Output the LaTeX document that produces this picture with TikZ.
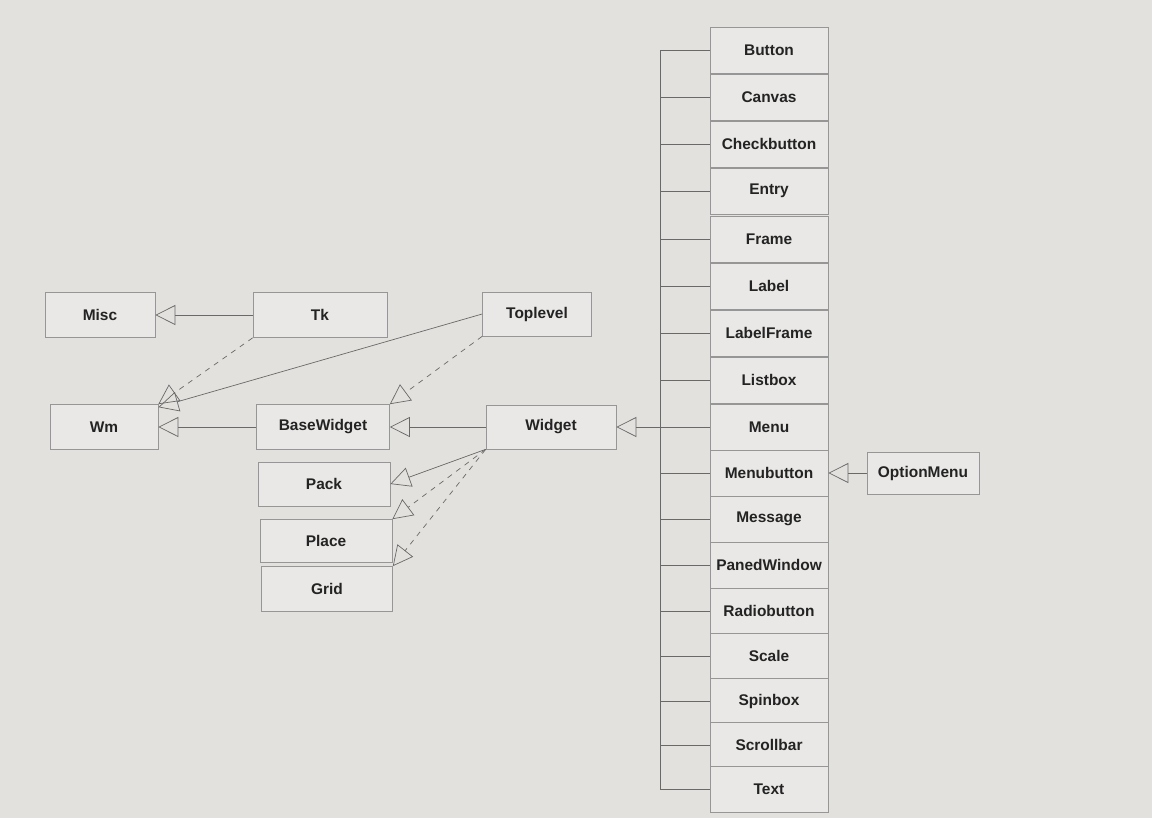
\documentclass[tikz,border=0pt]{standalone}
\usepackage{fontspec}
\setmainfont{Liberation Sans}
\usepackage{xcolor}
\usepackage{tikz}
\usetikzlibrary{arrows.meta}

\definecolor{screen}{RGB}{226,225,222}
\definecolor{boxfill}{RGB}{233,232,230}
\definecolor{boxline}{RGB}{150,150,150}
\definecolor{wire}{RGB}{105,105,105}
\definecolor{ink}{RGB}{35,35,35}

\tikzset{
    cls/.style={rectangle, draw=boxline, fill=boxfill, inner sep=0pt, minimum height=0.9cm, text=ink, font=\bfseries\fontsize{8.8}{10}\selectfont},
    wid/.style={cls, minimum width=2.36cm, minimum height=0.92cm},
    inh/.style={-{Triangle[open, length=4mm, width=4mm]}, wire, thin},
    tie/.style={wire, thin}
}

\begin{document}
\begin{tikzpicture}[x=0.02cm, y=-0.02cm]
            \fill[screen] (0,0) rectangle (1152,818);
            \useasboundingbox (0,0) rectangle (1152,818);

            % left part
            \node[cls, minimum width=2.2cm] (misc) at (100, 315) {Misc};
            \node[cls, minimum width=2.68cm] (tk) at (320, 315) {Tk};
            \node[cls, minimum width=2.18cm, minimum height=0.88cm] (toplevel) at (537, 314) {Toplevel};
            \node[cls, minimum width=2.16cm] (wm) at (104, 427) {Wm};
            \node[cls, minimum width=2.66cm] (basewidget) at (323, 427) {BaseWidget};
            \node[cls, minimum width=2.6cm, minimum height=0.88cm] (widget) at (551, 427) {Widget};
            \node[cls, minimum width=2.64cm, minimum height=0.88cm] (pack) at (324, 484) {Pack};
            \node[cls, minimum width=2.64cm, minimum height=0.86cm] (place) at (326, 541) {Place};
            \node[cls, minimum width=2.62cm] (grid) at (327, 589) {Grid};

            % widget column
            \node[wid] (button) at (769, 50) {Button};
            \node[wid] (canvas) at (769, 97) {Canvas};
            \node[wid] (checkbutton) at (769, 144) {Checkbutton};
            \node[wid] (entry) at (769, 191) {Entry};
            \node[wid] (frame) at (769, 239) {Frame};
            \node[wid] (label) at (769, 286) {Label};
            \node[wid] (labelframe) at (769, 333) {LabelFrame};
            \node[wid] (listbox) at (769, 380) {Listbox};
            \node[wid] (menu) at (769, 427) {Menu};
            \node[wid] (menubutton) at (769, 473) {Menubutton};
            \node[wid] (message) at (769, 519) {Message};
            \node[wid] (panedwindow) at (769, 565) {PanedWindow};
            \node[wid] (radiobutton) at (769, 611) {Radiobutton};
            \node[wid] (scale) at (769, 656) {Scale};
            \node[wid] (spinbox) at (769, 701) {Spinbox};
            \node[wid] (scrollbar) at (769, 745) {Scrollbar};
            \node[wid] (text) at (769, 789) {Text};
            \node[cls, minimum width=2.24cm, minimum height=0.84cm] (optionmenu) at (923, 473) {OptionMenu};

            \coordinate (bus) at (660, 427);

            % inheritance
            \draw[inh] (tk) -- (misc);
            \draw[inh, dashed] (tk.south west) -- (wm.north east);
            \draw[inh] (toplevel.west) -- (wm.20);
            \draw[inh, dashed] (toplevel.south west) -- (basewidget.north east);
            \draw[inh] (basewidget) -- (wm);
            \draw[inh] (widget) -- (basewidget);
            \draw[inh] (widget.south west) -- (pack.east);
            \draw[inh, dashed] (widget.south west) -- (place.north east);
            \draw[inh, dashed] (widget.south west) -- (grid.north east);
            \draw[inh] (bus) -- (widget);
            \draw[inh] (optionmenu) -- (menubutton);

            % bus to the widget column
            \draw[tie] (button.west -| bus) -- (text.west -| bus);
            \draw[tie] (button.west -| bus) -- (button.west);
            \draw[tie] (canvas.west -| bus) -- (canvas.west);
            \draw[tie] (checkbutton.west -| bus) -- (checkbutton.west);
            \draw[tie] (entry.west -| bus) -- (entry.west);
            \draw[tie] (frame.west -| bus) -- (frame.west);
            \draw[tie] (label.west -| bus) -- (label.west);
            \draw[tie] (labelframe.west -| bus) -- (labelframe.west);
            \draw[tie] (listbox.west -| bus) -- (listbox.west);
            \draw[tie] (menu.west -| bus) -- (menu.west);
            \draw[tie] (menubutton.west -| bus) -- (menubutton.west);
            \draw[tie] (message.west -| bus) -- (message.west);
            \draw[tie] (panedwindow.west -| bus) -- (panedwindow.west);
            \draw[tie] (radiobutton.west -| bus) -- (radiobutton.west);
            \draw[tie] (scale.west -| bus) -- (scale.west);
            \draw[tie] (spinbox.west -| bus) -- (spinbox.west);
            \draw[tie] (scrollbar.west -| bus) -- (scrollbar.west);
            \draw[tie] (text.west -| bus) -- (text.west);
        \end{tikzpicture}
\end{document}
